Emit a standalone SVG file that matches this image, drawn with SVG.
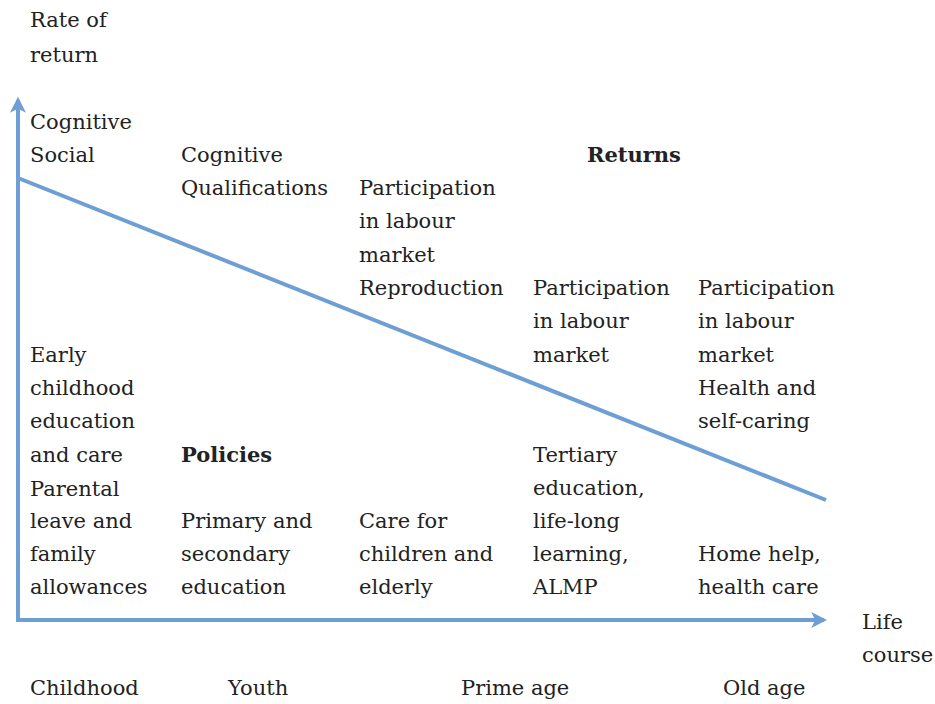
<svg xmlns="http://www.w3.org/2000/svg" width="935" height="704" viewBox="0 0 935 704">
<defs>
<style>
text{font-family:"DejaVu Serif","Liberation Serif",serif;font-size:21px;fill:#222}
.b{font-weight:bold}
.ax{stroke:#6e9fd4;stroke-width:4;fill:none}
</style>
<marker id="ah" viewBox="0 0 10 10" refX="8" refY="5" markerWidth="4" markerHeight="4" orient="auto" markerUnits="strokeWidth">
<path d="M0,0 L10,5 L0,10 L2.5,5 Z" fill="#6e9fd4"/>
</marker>
</defs>
<rect width="935" height="704" fill="#fff"/>
<g id="connectors">
<line class="ax" x1="18" y1="622" x2="18" y2="100" marker-end="url(#ah)"/>
<line class="ax" x1="16" y1="620" x2="824" y2="620" marker-end="url(#ah)"/>
<line class="ax" x1="18" y1="178" x2="826" y2="500"/>
</g>
<g id="axis-y"><text x="30" y="27">Rate of</text><text x="30" y="62">return</text></g>
<g id="axis-x"><text x="862" y="629">Life</text><text x="862" y="662">course</text></g>
<g id="childhood-returns"><text x="30" y="129">Cognitive</text><text x="30" y="162">Social</text></g>
<g id="youth-returns"><text x="181" y="162">Cognitive</text><text x="181" y="195">Qualifications</text></g>
<g id="prime-returns"><text x="359" y="195">Participation</text><text x="359" y="228">in labour</text><text x="359" y="262">market</text><text x="359" y="295">Reproduction</text></g>
<g id="returns-label"><text class="b" x="587" y="162">Returns</text></g>
<g id="late-prime-returns"><text x="533" y="295">Participation</text><text x="533" y="328">in labour</text><text x="533" y="362">market</text></g>
<g id="old-returns"><text x="698" y="295">Participation</text><text x="698" y="328">in labour</text><text x="698" y="362">market</text><text x="698" y="395">Health and</text><text x="698" y="428">self-caring</text></g>
<g id="childhood-policies"><text x="30" y="362">Early</text><text x="30" y="395">childhood</text><text x="30" y="428">education</text><text x="30" y="462">and care</text><text x="30" y="496">Parental</text><text x="30" y="528">leave and</text><text x="30" y="561">family</text><text x="30" y="594">allowances</text></g>
<g id="policies-label"><text class="b" x="181" y="462">Policies</text></g>
<g id="youth-policies"><text x="181" y="528">Primary and</text><text x="181" y="561">secondary</text><text x="181" y="594">education</text></g>
<g id="prime-policies"><text x="359" y="528">Care for</text><text x="359" y="561">children and</text><text x="359" y="594">elderly</text></g>
<g id="late-prime-policies"><text x="533" y="462">Tertiary</text><text x="533" y="495">education,</text><text x="533" y="528">life-long</text><text x="533" y="561">learning,</text><text x="533" y="594">ALMP</text></g>
<g id="old-policies"><text x="698" y="561">Home help,</text><text x="698" y="594">health care</text></g>
<g id="stages"><text x="30" y="695">Childhood</text><text x="228" y="695">Youth</text><text x="461" y="695">Prime age</text><text x="723" y="695">Old age</text></g>
</svg>
